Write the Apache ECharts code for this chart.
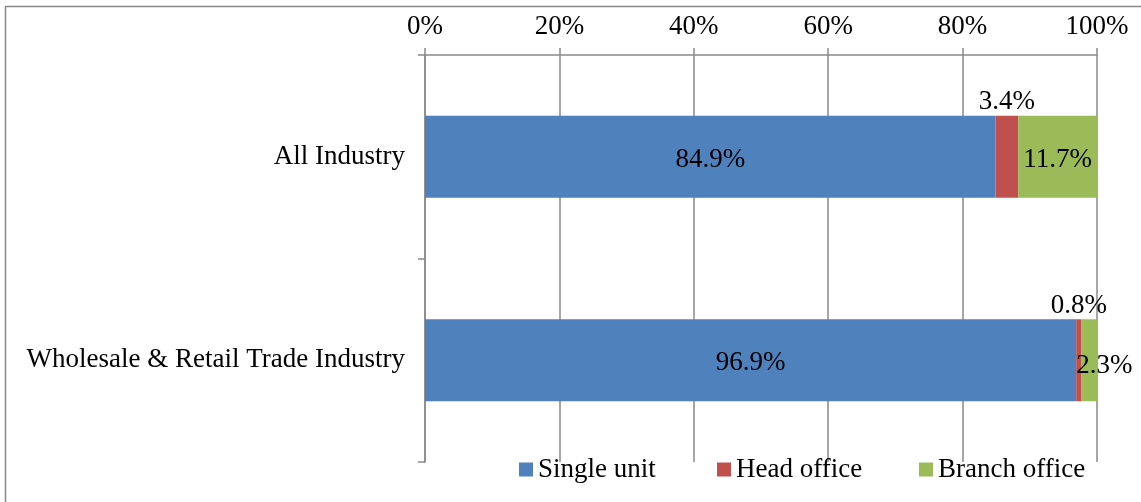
<!DOCTYPE html>
<html>
<head>
<meta charset="utf-8">
<script src="https://cdn.jsdelivr.net/npm/echarts@6/dist/echarts.min.js"></script>
<style>
html,body{margin:0;padding:0;background:#fff;}
#chart{width:1141px;height:502px;}
</style>
</head>
<body>
<div id="chart"></div>
<script>
const categories = ['All Industry', 'Wholesale & Retail Trade Industry'];
const seriesNames = ['Single unit', 'Head office', 'Branch office'];
const singleUnit = [84.9, 96.9];
const headOffice = [3.4, 0.8];
const branchOffice = [11.7, 2.3];
const xTicks = [0, 20, 40, 60, 80, 100];

const FONT = 'Liberation Serif';
const gray = '#898989';
const chart = echarts.init(document.getElementById('chart'));

function lbl(position, extra) {
  return Object.assign({
    show: true, position: position, color: '#000', fontFamily: FONT, fontSize: 27,
    formatter: p => p.value.toFixed(1) + '%'
  }, extra || {});
}

const legendLefts = [519, 717, 919];

chart.setOption({
  animation: false,
  backgroundColor: '#fff',
  graphic: [{
    type: 'rect', shape: { x: 5.5, y: 6.5, width: 1300, height: 700 },
    style: { fill: 'none', stroke: gray, lineWidth: 1.5 }, silent: true
  }],
  grid: { left: 425, right: 44, top: 55, bottom: 40, containLabel: false },
  legend: seriesNames.map((n, i) => ({
    data: [n], left: legendLefts[i], top: 456, padding: 0,
    itemWidth: 14, itemHeight: 14, icon: 'rect',
    textStyle: { fontFamily: FONT, fontSize: 27, color: '#000' }
  })),
  xAxis: {
    type: 'value', position: 'top', min: xTicks[0], max: xTicks[xTicks.length - 1], interval: 20,
    axisLine: { show: true, lineStyle: { color: gray, width: 1.5 } },
    axisTick: { show: true, length: 7, lineStyle: { color: gray, width: 1.5 } },
    splitLine: { show: true, lineStyle: { color: gray, width: 1.5 } },
    axisLabel: { fontFamily: FONT, fontSize: 27, color: '#000', margin: 15, formatter: v => v + '%' }
  },
  yAxis: {
    type: 'category', data: categories, inverse: true,
    axisLine: { show: true, lineStyle: { color: gray, width: 1.5 } },
    axisTick: { show: true, length: 7, lineStyle: { color: gray, width: 1.5 } },
    axisLabel: { fontFamily: FONT, fontSize: 27, color: '#000', margin: 20 }
  },
  series: [
    { name: seriesNames[0], type: 'bar', stack: 's', barWidth: 82, data: singleUnit,
      itemStyle: { color: '#4F81BD' }, label: lbl('inside', { offset: [0, 3] }) },
    { name: seriesNames[1], type: 'bar', stack: 's', barWidth: 82, data: headOffice,
      itemStyle: { color: '#C0504D' }, label: lbl('top', { distance: 0 }) },
    { name: seriesNames[2], type: 'bar', stack: 's', barWidth: 82,
      data: branchOffice.map((v, i) => i === 1 ? { value: v, label: { offset: [15, 6] } } : v),
      itemStyle: { color: '#9BBB59' }, label: lbl('inside', { offset: [0, 3] }) }
  ]
});
</script>
</body>
</html>
